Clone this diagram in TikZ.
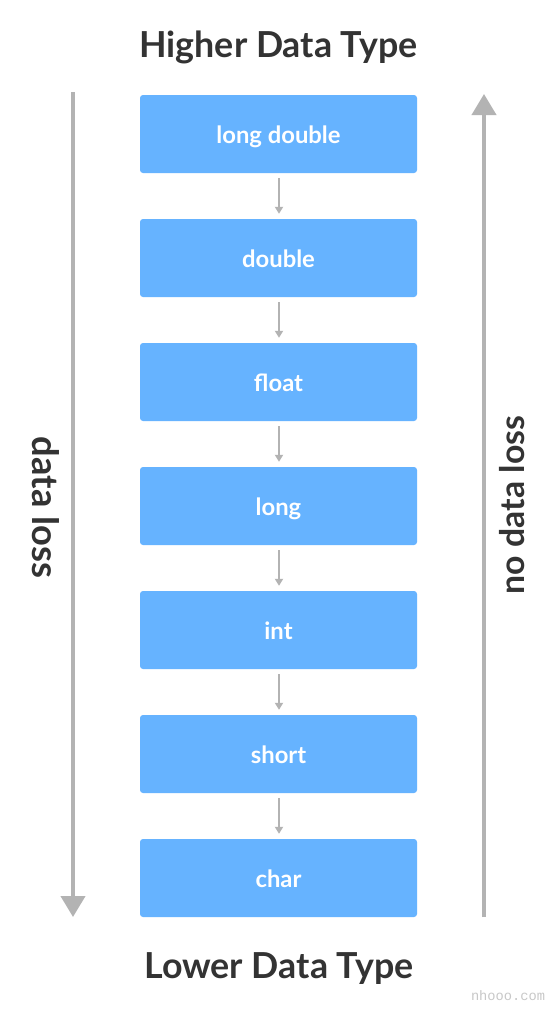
\documentclass[tikz,border=0pt]{standalone}
\usepackage{fontspec}
\setmainfont{Lato}
\setmonofont{Liberation Mono}
\usetikzlibrary{arrows.meta}
\definecolor{boxblue}{HTML}{66B3FF}
\definecolor{arrowgrey}{HTML}{B3B3B3}
\definecolor{titlegrey}{HTML}{333333}
\definecolor{wmgrey}{HTML}{C8C8C8}
\begin{document}
\begin{tikzpicture}[x=1pt,y=-1pt,
  typebox/.style={fill=boxblue,draw=none,rounded corners=3pt,minimum width=277pt,minimum height=78pt,inner sep=0pt,text height=19pt,text depth=0pt,text=white,font=\bfseries\fontsize{23.8}{28}\selectfont},
  smallarrow/.style={draw=arrowgrey,line width=1.8pt,-{Triangle[width=8pt,length=7pt]}},
  bigarrow/.style={draw=arrowgrey,line width=4pt,-{Triangle[width=24pt,length=21pt]}},
  title/.style={anchor=base,text=titlegrey,font=\bfseries\fontsize{35.8}{42}\selectfont},
  side/.style={anchor=base,text=titlegrey,font=\bfseries\fontsize{36.3}{42}\selectfont}]
\useasboundingbox[fill=white] (0,0) rectangle (555,1013);
\node[title] (top) at (278.5,57) {Higher Data Type};
\node[title] (bottom) at (279,978) {Lower Data Type};
\node[typebox] (b1) at (278.5,134) {long double};
\node[typebox] (b2) at (278.5,258) {double};
\node[typebox] (b3) at (278.5,382) {float};
\node[typebox] (b4) at (278.5,506) {long};
\node[typebox] (b5) at (278.5,630) {int};
\node[typebox] (b6) at (278.5,754) {short};
\node[typebox] (b7) at (278.5,878) {char};
\foreach \a/\b in {b1/b2,b2/b3,b3/b4,b4/b5,b5/b6,b6/b7}
  \draw[smallarrow] ([xshift=0.5pt,yshift=-5pt]\a.south) -- ([xshift=0.5pt,yshift=5pt]\b.north);
\coordinate (ltop) at (73,92);
\coordinate (lbot) at (73,917);
\coordinate (rtop) at (484,94);
\coordinate (rbot) at (484,917);
\draw[bigarrow] (ltop) -- (lbot);
\draw[bigarrow] (rbot) -- (rtop);
\node[side,rotate=-90] (dl) at (32,507.5) {data loss};
\node[side,rotate=90,font=\bfseries\fontsize{33.8}{40}\selectfont] (ndl) at (524,505) {no data loss};
\node[text=wmgrey,font=\ttfamily\fontsize{13.7}{16}\selectfont] (wm) at (508,996) {nhooo.com};
\end{tikzpicture}
\end{document}
